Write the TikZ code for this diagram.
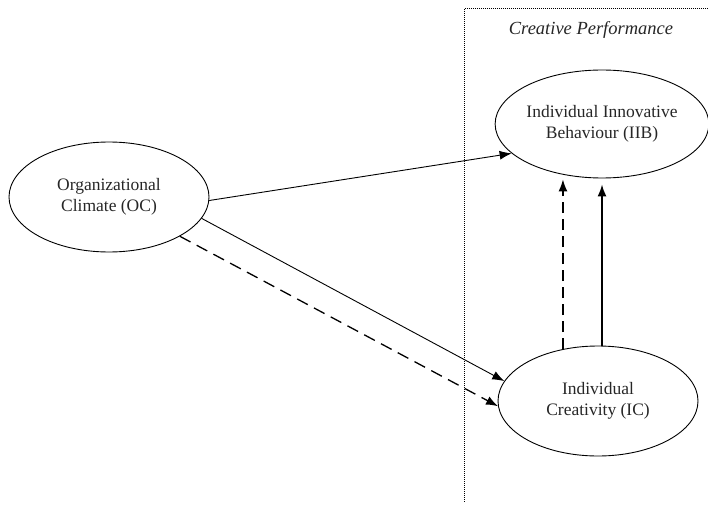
\documentclass[tikz,border=0pt]{standalone}
\usepackage{fontspec}
\setmainfont{Liberation Serif}
\usetikzlibrary{arrows.meta,shapes.geometric}
\begin{document}
\begin{tikzpicture}[x=1pt,y=-1pt,
  oval/.style={draw, ellipse, line width=0.9pt, minimum width=200pt, minimum height=110pt, inner sep=0pt, align=center, text=black!85, font=\fontsize{17.5}{20.5}\selectfont},
  arr/.style={line width=0.9pt, -{Latex[length=12pt,width=9pt]}},
  darr/.style={line width=1.3pt, dash pattern=on 12pt off 7pt, -{Latex[length=12pt,width=9pt]}},
  frame/.style={line width=1pt, dash pattern=on 1pt off 1pt}
]
\useasboundingbox (0,0) rectangle (708,505);
\coordinate (ftop) at (708,9);
\coordinate (fcorner) at (464,9);
\coordinate (fbot) at (464,503);
\draw[frame] (ftop) -- (fcorner) -- (fbot);
\node[font=\fontsize{18.5}{22}\selectfont\itshape, text=black!85] (title) at (591,30) {Creative Performance};
\node[oval] (OC) at (109,197) {Organizational\\Climate (OC)};
\node[oval, minimum width=204pt, minimum height=108pt] (IIB) at (602,124) {Individual Innovative\\Behaviour (IIB)};
\node[oval] (IC) at (598,401) {Individual\\Creativity (IC)};
\draw[arr] (OC.-2) -- (IIB.198);
\draw[arr] (OC.-13) -- (IC.168);
\draw[darr] (OC.-29) -- (IC.183);
\draw[darr, dash pattern=on 11pt off 6pt, shorten >=1pt] (IC.124) -- (IC.124 |- IIB.south);
\draw[arr, line width=1.6pt, shorten >=6pt] (IIB.south |- IC.north) -- (IIB.south);
\end{tikzpicture}
\end{document}
